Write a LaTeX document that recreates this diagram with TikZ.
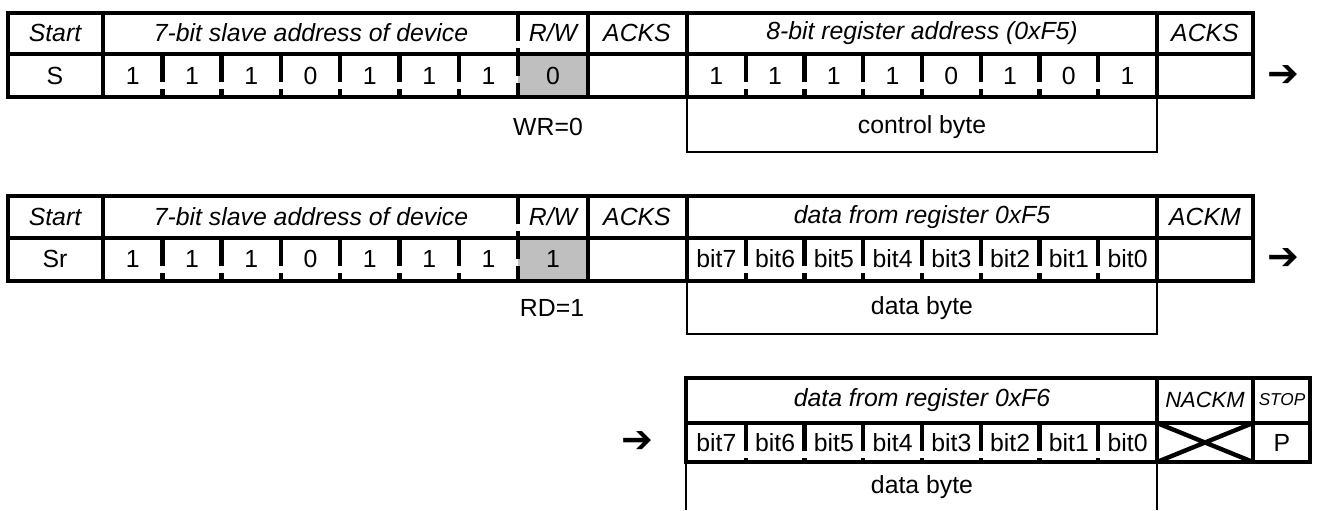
\documentclass[tikz,border=0pt]{standalone}
\usepackage{fontspec}
\setmainfont{Liberation Sans}
\newfontfamily\dingfont{DejaVu Sans}

\begin{document}
\begin{tikzpicture}[x=0.5pt,y=-0.5pt,
    frame/.style={line width=2.2pt},
    bitsep/.style={line width=2.2pt,dash pattern=on 14pt off 3.5pt},
    thin/.style={line width=1.3pt},
    hd/.style={font=\fontsize{12.4}{14}\selectfont\itshape},
    val/.style={font=\fontsize{12.4}{14}\selectfont},
    nxt/.style={font=\dingfont\bfseries\fontsize{19}{20}\selectfont}]
  \useasboundingbox (0,0) rectangle (1318,510);

  %% write: slave address + register address
  \fill[gray!50] (518,54) rectangle (588,97);
  \draw[frame] (8,13) rectangle (1253,97);
  \draw[frame] (8,54) -- (1253,54);
  \foreach \x in {103,588,687,1157} \draw[frame] (\x,13) -- (\x,97);
  \draw[bitsep] (518,13) -- (518,97);
  \foreach \i in {1,...,6} \draw[bitsep] ({103+59.3*\i},54) -- ({103+59.3*\i},97);
  \foreach \i in {1,...,7} \draw[bitsep] ({687+58.75*\i},54) -- ({687+58.75*\i},97);
  \draw[thin] (687,97) |- (1157,152) -- (1157,97);

  \node[hd] (start1) at (55,33) {Start};
  \node[hd] (addr1) at (311,33) {7-bit slave address of device};
  \node[hd] (rw1) at (553,33) {R/W};
  \node[hd] (acks1) at (637,33) {ACKS};
  \node[hd] (reg1) at (922,33) {8-bit register address (0xF5)};
  \node[hd] (acksr1) at (1205,33) {ACKS};
  \node[val] (s1) at (55,76) {S};
  \foreach \b [count=\i] in {1,1,1,0,1,1,1}
    \node[val] (a1\i) at ({103+59.3*(\i-0.5)},76) {\b};
  \node[val] (rwv1) at (553,76) {0};
  \foreach \b [count=\i] in {1,1,1,1,0,1,0,1}
    \node[val] (r1\i) at ({687+58.75*(\i-0.5)},76) {\b};
  \node[nxt] (go1) at (1283,76) {➔};
  \node[val] (wr) at (548,127) {WR=0};
  \node[val] (ctl) at (922,127) {control byte};

  %% read: slave address + data
  \fill[gray!50] (518,238) rectangle (588,281);
  \draw[frame] (8,196) rectangle (1253,281);
  \draw[frame] (8,238) -- (1253,238);
  \foreach \x in {103,588,687,1157} \draw[frame] (\x,196) -- (\x,281);
  \draw[bitsep] (518,196) -- (518,281);
  \foreach \i in {1,...,6} \draw[bitsep] ({103+59.3*\i},238) -- ({103+59.3*\i},281);
  \foreach \i in {1,...,7} \draw[bitsep] ({687+58.75*\i},238) -- ({687+58.75*\i},281);
  \draw[thin] (687,281) |- (1157,334) -- (1157,281);

  \node[hd] (start2) at (55,217) {Start};
  \node[hd] (addr2) at (311,217) {7-bit slave address of device};
  \node[hd] (rw2) at (553,217) {R/W};
  \node[hd] (acks2) at (637,217) {ACKS};
  \node[hd] (dat2) at (922,217) {data from register 0xF5};
  \node[hd] (ackm2) at (1205,217) {ACKM};
  \node[val] (s2) at (55,259) {Sr};
  \foreach \b [count=\i] in {1,1,1,0,1,1,1}
    \node[val] (a2\i) at ({103+59.3*(\i-0.5)},259) {\b};
  \node[val] (rwv2) at (553,259) {1};
  \foreach \b [count=\i] in {7,...,0}
    \node[val] (d2\i) at ({687+58.75*(\i-0.5)},259) {bit\b};
  \node[nxt] (go2) at (1283,259) {➔};
  \node[val] (rd) at (552,308) {RD=1};
  \node[val] (byte2) at (922,308) {data byte};

  %% read: next data + stop
  \draw[frame] (686,378) rectangle (1310,462);
  \draw[frame] (686,423) -- (1310,423);
  \foreach \x in {1157,1253} \draw[frame] (\x,378) -- (\x,462);
  \foreach \i in {1,...,7} \draw[bitsep] ({687+58.75*\i},423) -- ({687+58.75*\i},462);
  \draw[frame] (1157,423) -- (1253,462) (1157,462) -- (1253,423);
  \coordinate (cut1) at (686,510);
  \coordinate (cut2) at (1157,510);
  \draw[thin] (686,462) -- (cut1) (1157,462) -- (cut2);

  \node[nxt] (go3) at (637,442) {➔};
  \node[hd] (dat3) at (922,400) {data from register 0xF6};
  \node[hd,font=\fontsize{11}{13}\selectfont\itshape] (nackm3) at (1205,400) {NACKM};
  \node[hd,font=\fontsize{8.6}{10}\selectfont\itshape] (stop3) at (1282,400) {STOP};
  \foreach \b [count=\i] in {7,...,0}
    \node[val] (d3\i) at ({687+58.75*(\i-0.5)},443) {bit\b};
  \node[val] (p3) at (1282,443) {P};
  \node[val] (byte3) at (922,487) {data byte};
\end{tikzpicture}
\end{document}
